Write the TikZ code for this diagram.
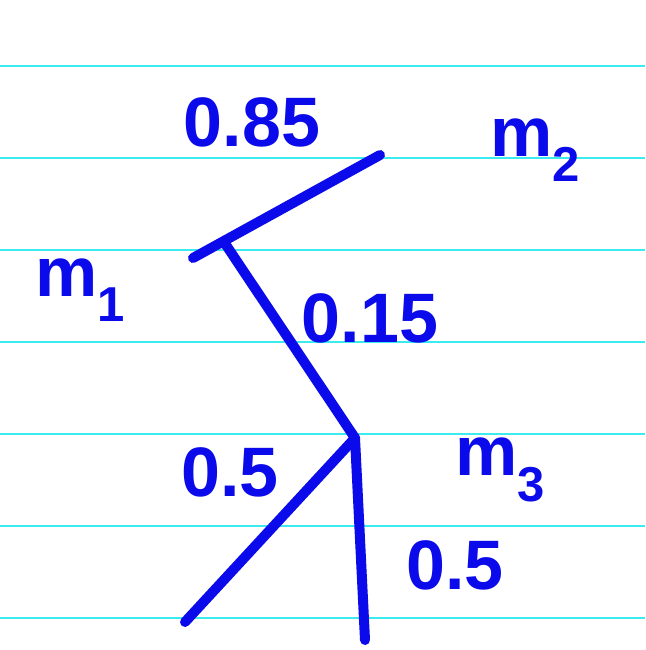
\documentclass[tikz,border=0pt]{standalone}
\usepackage{fontspec}
\setmainfont{Liberation Sans}
\definecolor{ink}{RGB}{10,10,235}
\definecolor{rule}{RGB}{60,235,240}
\begin{document}
\begin{tikzpicture}[x=1pt,y=-1pt,
  ruling/.style={draw=rule,line width=1.5pt},
  stroke/.style={draw=ink,line width=10pt,line cap=round,line join=round},
  lbl/.style={text=ink,font=\bfseries\fontsize{70}{72}\selectfont,inner sep=0pt}]
\useasboundingbox[fill=white] (0,0) rectangle (645,650);
\foreach \y in {66,158,250,342,434,526,618}
  \draw[ruling] (0,\y) -- (645,\y);
% connection points
\coordinate (a) at (193,258);
\coordinate (b) at (380,155);
\coordinate (j1) at (224,242);
\coordinate (j2) at (355,438);
\coordinate (c) at (365,640);
\coordinate (d) at (185,622);
\draw[stroke] (a) -- (b);
\draw[stroke] (j1) -- (j2);
\draw[stroke] (j2) -- (c);
\draw[stroke] (j2) -- (d);
% labels
\node[lbl] (l085) at (252,122) {0.85};
\node[lbl] (lm2) at (535,150) {m\textsubscript{2}};
\node[lbl] (lm1) at (80,290) {m\textsubscript{1}};
\node[lbl] (l015) at (370,318) {0.15};
\node[lbl] (l05a) at (230,472) {0.5};
\node[lbl] (lm3) at (500,470) {m\textsubscript{3}};
\node[lbl] (l05b) at (455,565) {0.5};
\end{tikzpicture}
\end{document}
